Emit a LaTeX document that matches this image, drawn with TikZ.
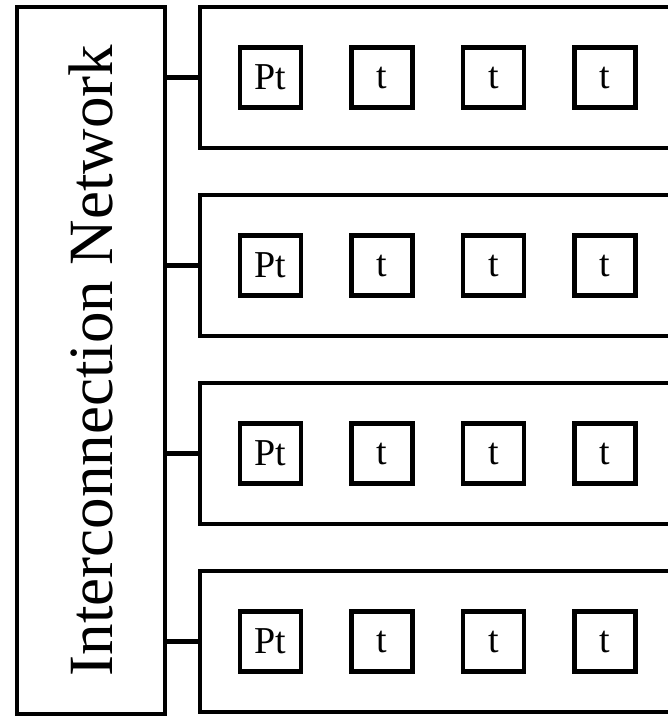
\documentclass[tikz,border=0pt]{standalone}
\usepackage{fontspec}
\setmainfont{Liberation Serif}
\usetikzlibrary{positioning}
\tikzset{
	netbox/.style ={rectangle, draw=black, line width=4.5pt, outer sep=0pt, minimum width=148pt, minimum height=707pt, inner sep=0pt, font=\fontsize{63}{70}\selectfont},
	cluster/.style={rectangle, draw=black, line width=4.5pt, outer sep=0pt, minimum width=490pt, minimum height=141pt},
	tile/.style   ={rectangle, draw=black, line width=4.5pt, outer sep=0pt, minimum width=61pt, minimum height=60pt, inner sep=0pt, font=\fontsize{38}{40}\selectfont},
	link/.style   ={line width=4.5pt},
}

\begin{document}
\begin{tikzpicture}[x=1pt, y=-1pt]
	\useasboundingbox (0,0) rectangle (668,718);
	\node[netbox] (net) at (91,360.5) {\rotatebox{90}{Interconnection Network}};
	% the four clusters, right side runs off the page
	\node[cluster] (c1) at (445,77.5) {};
	\node[cluster, below=47pt of c1] (c2) {};
	\node[cluster, below=47pt of c2] (c3) {};
	\node[cluster, below=47pt of c3] (c4) {};
	% tiles
	\node[tile, right=40pt of c1.west] (p1) {Pt};
	\node[tile, right=50.5pt of p1] (t1a) {t};
	\node[tile, right=50.5pt of t1a] (t1b) {t};
	\node[tile, right=50.5pt of t1b] (t1c) {t};
	\node[tile, right=40pt of c2.west] (p2) {Pt};
	\node[tile, right=50.5pt of p2] (t2a) {t};
	\node[tile, right=50.5pt of t2a] (t2b) {t};
	\node[tile, right=50.5pt of t2b] (t2c) {t};
	\node[tile, right=40pt of c3.west] (p3) {Pt};
	\node[tile, right=50.5pt of p3] (t3a) {t};
	\node[tile, right=50.5pt of t3a] (t3b) {t};
	\node[tile, right=50.5pt of t3b] (t3c) {t};
	\node[tile, right=40pt of c4.west] (p4) {Pt};
	\node[tile, right=50.5pt of p4] (t4a) {t};
	\node[tile, right=50.5pt of t4a] (t4b) {t};
	\node[tile, right=50.5pt of t4b] (t4c) {t};
	% links to the network
	\draw[link] (c1.west) -- (c1.west -| net.east);
	\draw[link] (c2.west) -- (c2.west -| net.east);
	\draw[link] (c3.west) -- (c3.west -| net.east);
	\draw[link] (c4.west) -- (c4.west -| net.east);
\end{tikzpicture}
\end{document}
